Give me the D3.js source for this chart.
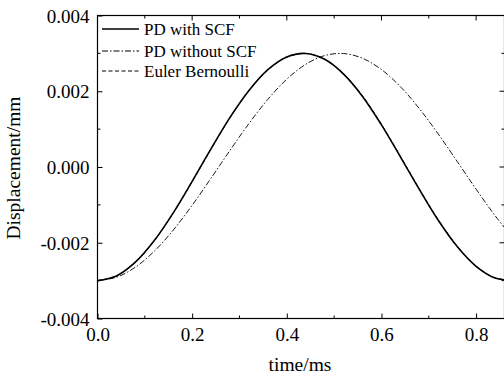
<!DOCTYPE html>
<html><head><meta charset="utf-8">
<script src="https://cdn.jsdelivr.net/npm/d3@7/dist/d3.min.js"></script>
<style>body{margin:0;background:#fff}svg{display:block}</style>
</head><body>
<script>
const times = [0,0.04,0.08,0.12,0.16,0.20,0.24,0.28,0.32,0.36,0.40,0.44,0.48,0.52,0.56,0.60,0.64,0.68,0.72,0.76,0.80,0.84,0.88];
const pdWithSCF = [-0.003,-0.002876,-0.002513,-0.001942,-0.001211,-0.000378,0.000485,0.001310,0.002021,0.002571,0.002905,0.002998,0.002843,0.002454,0.001864,0.001112,0.000269,-0.000592,-0.001406,-0.002099,-0.002622,-0.002931,-0.002990];
const pdWithoutSCF = [-0.003,-0.002910,-0.002646,-0.002223,-0.001667,-0.001011,-0.000294,0.000440,0.001148,0.001787,0.002319,0.002712,0.002942,0.002996,0.002871,0.002573,0.002121,0.001542,0.000871,0.000147,-0.000585,-0.001283,-0.001903];
const eulerBernoulli = [-0.003,-0.002877,-0.002516,-0.001948,-0.001220,-0.000390,0.000472,0.001298,0.002011,0.002564,0.002901,0.002998,0.002848,0.002462,0.001876,0.001126,0.000284,-0.000578,-0.001393,-0.002089,-0.002616,-0.002928,-0.002992];
const xTicks = [0,0.2,0.4,0.6,0.8];
const yTicks = [-0.004,-0.002,0,0.002,0.004];
const seriesNames = ["PD with SCF","PD without SCF","Euler Bernoulli"];

const FONT='Liberation Serif';
const W=504,H=374;
const svg=d3.select("body").append("svg").attr("width",W).attr("height",H);
const L=97.5,T=15.5,R=504.5,B=318.5;
const x=d3.scaleLinear().domain([0,0.86]).range([L,R]);
const y=d3.scaleLinear().domain([-0.004,0.004]).range([B,T]);

svg.append("defs").append("clipPath").attr("id","clip").append("rect").attr("x",L).attr("y",T).attr("width",R-L).attr("height",B-T);

const line=d3.line().x(d=>x(d[0])).y(d=>y(d[1])).curve(d3.curveCatmullRom);
const g=svg.append("g").attr("clip-path","url(#clip)");
const styles=[
  {data:pdWithSCF,w:1.6,dash:null},
  {data:pdWithoutSCF,w:0.9,dash:"6,2,1.5,2"},
  {data:eulerBernoulli,w:1,dash:"4,2.5"}
];
styles.forEach(s=>{
  g.append("path").datum(times.map((t,i)=>[t,s.data[i]])).attr("d",line)
   .attr("fill","none").attr("stroke","#000").attr("stroke-width",s.w).attr("stroke-dasharray",s.dash);
});

svg.append("rect").attr("x",L).attr("y",T).attr("width",R-L).attr("height",B-T).attr("fill","none").attr("stroke","#000").attr("stroke-width",1.2);

const xAxis=d3.axisBottom(x).tickValues(xTicks).tickSizeInner(-5).tickSizeOuter(0).tickPadding(9).tickFormat(d3.format(".1f"));
const gx=svg.append("g").attr("transform",`translate(0,${B})`).call(xAxis);
const yAxis=d3.axisLeft(y).tickValues(yTicks).tickSizeInner(-5).tickSizeOuter(0).tickPadding(8).tickFormat(d=>d3.format(".3f")(d).replace("−","-"));
const gy=svg.append("g").attr("transform",`translate(${L},0)`).call(yAxis);
[gx,gy].forEach(a=>{a.attr("font-family",null).attr("font-size",null);a.select(".domain").remove();a.selectAll("text").style("font-family",FONT).style("font-size","19px").attr("fill","#000");a.selectAll("line").attr("stroke","#000");});
gx.selectAll("text").attr("dy","0.71em");
gy.selectAll("text").attr("dy","0.35em");
const xMinor=[0.1,0.3,0.5,0.7];
xMinor.forEach(v=>{
  svg.append("line").attr("x1",x(v)).attr("x2",x(v)).attr("y1",B).attr("y2",B-3).attr("stroke","#000");
  svg.append("line").attr("x1",x(v)).attr("x2",x(v)).attr("y1",T).attr("y2",T+3).attr("stroke","#000");
});
xTicks.forEach(v=>svg.append("line").attr("x1",x(v)).attr("x2",x(v)).attr("y1",T).attr("y2",T+5).attr("stroke","#000"));
const yMinor=[-0.003,-0.001,0.001,0.003];
yMinor.forEach(v=>{
  svg.append("line").attr("x1",L).attr("x2",L+3).attr("y1",y(v)).attr("y2",y(v)).attr("stroke","#000");
  svg.append("line").attr("x1",R).attr("x2",R-3).attr("y1",y(v)).attr("y2",y(v)).attr("stroke","#000");
});
yTicks.forEach(v=>svg.append("line").attr("x1",R).attr("x2",R-5).attr("y1",y(v)).attr("y2",y(v)).attr("stroke","#000"));

svg.append("text").attr("x",300).attr("y",371).attr("text-anchor","middle").style("font-family",FONT).style("font-size","19.5px").text("time/ms");
svg.append("text").attr("transform","translate(20,168) rotate(-90)").attr("text-anchor","middle").style("font-family",FONT).style("font-size","19.5px").text("Displacement/mm");

const leg=svg.append("g");
const legY=[29,51,71];
seriesNames.forEach((n,i)=>{
  leg.append("line").attr("x1",102).attr("x2",139).attr("y1",legY[i]).attr("y2",legY[i]).attr("stroke","#000")
    .attr("stroke-width",i==0?1.4:1).attr("stroke-dasharray",styles[i].dash);
  leg.append("text").attr("x",144).attr("y",legY[i]).attr("dy","0.35em").style("font-family",FONT).style("font-size","17px").text(n);
});
</script>
</body></html>
